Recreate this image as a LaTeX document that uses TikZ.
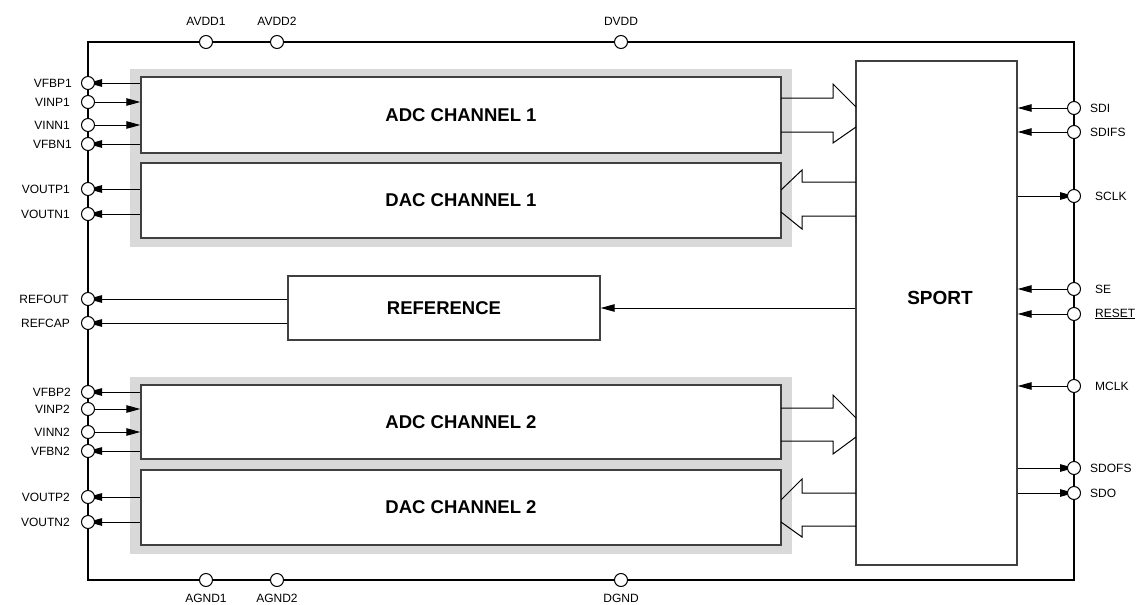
\documentclass[tikz,border=0pt]{standalone}
\usepackage{fontspec}
\setmainfont{Liberation Sans}
\usetikzlibrary{arrows.meta,calc}
\definecolor{panelgray}{HTML}{D9D9D9}
\definecolor{boxline}{HTML}{404040}
\tikzset{
  blk/.style={draw=boxline, line width=1.4pt, fill=white, inner sep=0pt,
    font=\fontsize{18.5}{22}\selectfont\bfseries},
  panel/.style={fill=panelgray, draw=none, inner sep=0pt},
  pin/.style={circle, draw=black, fill=white, line width=1pt, minimum size=13pt, inner sep=0pt},
  arr/.style={line width=1pt, -{Triangle[length=14pt,width=7.5pt]}},
  fat/.style={line width=1pt, draw=black, line join=miter},
  lbl/.style={font=\fontsize{12}{14}\selectfont, inner sep=0pt},
}
\begin{document}
\begin{tikzpicture}[x=1pt,y=-1pt]
\useasboundingbox (0,0) rectangle (1141,605);
% grey panels
\node[panel, minimum width=662pt, minimum height=178pt] (g1) at (461,158) {};
\node[panel, minimum width=662pt, minimum height=177pt] (g2) at (461,465.5) {};
% blocks
\node[blk, minimum width=640pt, minimum height=76pt] (adc1) at (461,115) {ADC CHANNEL 1};
\node[blk, minimum width=640pt, minimum height=75pt] (dac1) at (461,200.5) {DAC CHANNEL 1};
\node[blk, minimum width=312pt, minimum height=64pt] (ref) at (444,308) {REFERENCE};
\node[blk, minimum width=640pt, minimum height=74pt] (adc2) at (461,422) {ADC CHANNEL 2};
\node[blk, minimum width=640pt, minimum height=75pt] (dac2) at (461,507.5) {DAC CHANNEL 2};
\node[blk, minimum width=161pt, minimum height=504pt] (sport) at (936.5,313) {};
\node[font=\fontsize{19}{22}\selectfont\bfseries, inner sep=0pt] (sportlbl) at (940,298) {SPORT};
% fat bus arrows
\draw[fat] (781,98) -- (833,98) -- (833,84) -- (856,107);
\draw[fat] (856,127) -- (833,143) -- (833,132) -- (781,132);
\draw[fat] (856,182) -- (802,182) -- (802,170) -- (781,190);
\draw[fat] (781,212) -- (802,229) -- (802,216) -- (856,216);
\draw[fat] (781,408) -- (833,408) -- (833,395) -- (856,418);
\draw[fat] (856,437) -- (833,454) -- (833,441) -- (781,441);
\draw[fat] (856,493) -- (802,493) -- (802,479) -- (781,500);
\draw[fat] (781,522) -- (802,537) -- (802,526) -- (856,526);
% frame
\node[draw=black, line width=2.4pt, minimum width=986pt, minimum height=538pt, inner sep=0pt] (frame) at (581,311) {};
% left pins
\foreach \n/\y in {vfbpa/83, vinpa/102, vinna/125, vfbna/144, voutpa/189, voutna/214,
                   refout/299, refcap/323,
                   vfbpb/392, vinpb/409, vinnb/432, vfbnb/451, voutpb/497, voutnb/522}
  \coordinate (\n c) at (88,\y);
% right pins
\foreach \n/\y in {sdi/108, sdifs/132, sclk/196, se/289, reset/314, mclk/386, sdofs/468, sdo/493}
  \coordinate (\n c) at (1074,\y);
% arrows (drawn before pin circles)
\draw[arr] (adc1.west |- vfbpac) -- (vfbpac);
\draw[arr] (vinpac) -- (adc1.west |- vinpac);
\draw[arr] (vinnac) -- (adc1.west |- vinnac);
\draw[arr] (adc1.west |- vfbnac) -- (vfbnac);
\draw[arr] (dac1.west |- voutpac) -- (voutpac);
\draw[arr] (dac1.west |- voutnac) -- (voutnac);
\draw[arr] (ref.west |- refoutc) -- (refoutc);
\draw[arr] (ref.west |- refcapc) -- (refcapc);
\draw[arr] (adc2.west |- vfbpbc) -- (vfbpbc);
\draw[arr] (vinpbc) -- (adc2.west |- vinpbc);
\draw[arr] (vinnbc) -- (adc2.west |- vinnbc);
\draw[arr] (adc2.west |- vfbnbc) -- (vfbnbc);
\draw[arr] (dac2.west |- voutpbc) -- (voutpbc);
\draw[arr] (dac2.west |- voutnbc) -- (voutnbc);
\draw[arr] (sport.west |- ref.east) -- (ref.east);
\draw[arr] (sdic) -- (sport.east |- sdic);
\draw[arr] (sdifsc) -- (sport.east |- sdifsc);
\draw[arr] (sport.east |- sclkc) -- (sclkc);
\draw[arr] (sec) -- (sport.east |- sec);
\draw[arr] (resetc) -- (sport.east |- resetc);
\draw[arr] (mclkc) -- (sport.east |- mclkc);
\draw[arr] (sport.east |- sdofsc) -- (sdofsc);
\draw[arr] (sport.east |- sdoc) -- (sdoc);
% pin circles
\foreach \n in {vfbpa, vinpa, vinna, vfbna, voutpa, voutna, refout, refcap,
                vfbpb, vinpb, vinnb, vfbnb, voutpb, voutnb,
                sdi, sdifs, sclk, se, reset, mclk, sdofs, sdo}
  \node[pin] (\n) at (\n c) {};
\node[pin] (avdda) at (206,42) {};
\node[pin] (avddb) at (277,42) {};
\node[pin] (dvdd) at (621,42) {};
\node[pin] (agnda) at (206,580) {};
\node[pin] (agndb) at (277,580) {};
\node[pin] (dgnd) at (621,580) {};
% left labels
\node[lbl, anchor=east] (l1) at (72,83) {VFBP1};
\node[lbl, anchor=east] (l2) at (70,102) {VINP1};
\node[lbl, anchor=east] (l3) at (70,125) {VINN1};
\node[lbl, anchor=east] (l4) at (72,144) {VFBN1};
\node[lbl, anchor=east] (l5) at (70,189) {VOUTP1};
\node[lbl, anchor=east] (l6) at (70,214) {VOUTN1};
\node[lbl, anchor=east] (l7) at (69,299) {REFOUT};
\node[lbl, anchor=east] (l8) at (70,323) {REFCAP};
\node[lbl, anchor=east] (l9) at (71,392) {VFBP2};
\node[lbl, anchor=east] (l10) at (70,409) {VINP2};
\node[lbl, anchor=east] (l11) at (70,432) {VINN2};
\node[lbl, anchor=east] (l12) at (70,451) {VFBN2};
\node[lbl, anchor=east] (l13) at (70,497) {VOUTP2};
\node[lbl, anchor=east] (l14) at (70,522) {VOUTN2};
% right labels
\node[lbl, anchor=west] (r1) at (1090,108) {SDI};
\node[lbl, anchor=west] (r2) at (1090,132) {SDIFS};
\node[lbl, anchor=west] (r3) at (1095,196) {SCLK};
\node[lbl, anchor=west] (r4) at (1095,289) {SE};
\node[lbl, anchor=west] (r5) at (1095,314) {\underline{RESET}};
\node[lbl, anchor=west] (r6) at (1095,386) {MCLK};
\node[lbl, anchor=west] (r7) at (1090,468) {SDOFS};
\node[lbl, anchor=west] (r8) at (1090,493) {SDO};
% top / bottom labels
\node[lbl] (t1) at (206,21) {AVDD1};
\node[lbl] (t2) at (277,21) {AVDD2};
\node[lbl] (t3) at (621,21) {DVDD};
\node[lbl] (b1) at (206,598) {AGND1};
\node[lbl] (b2) at (277,598) {AGND2};
\node[lbl] (b3) at (621,598) {DGND};
\end{tikzpicture}
\end{document}
